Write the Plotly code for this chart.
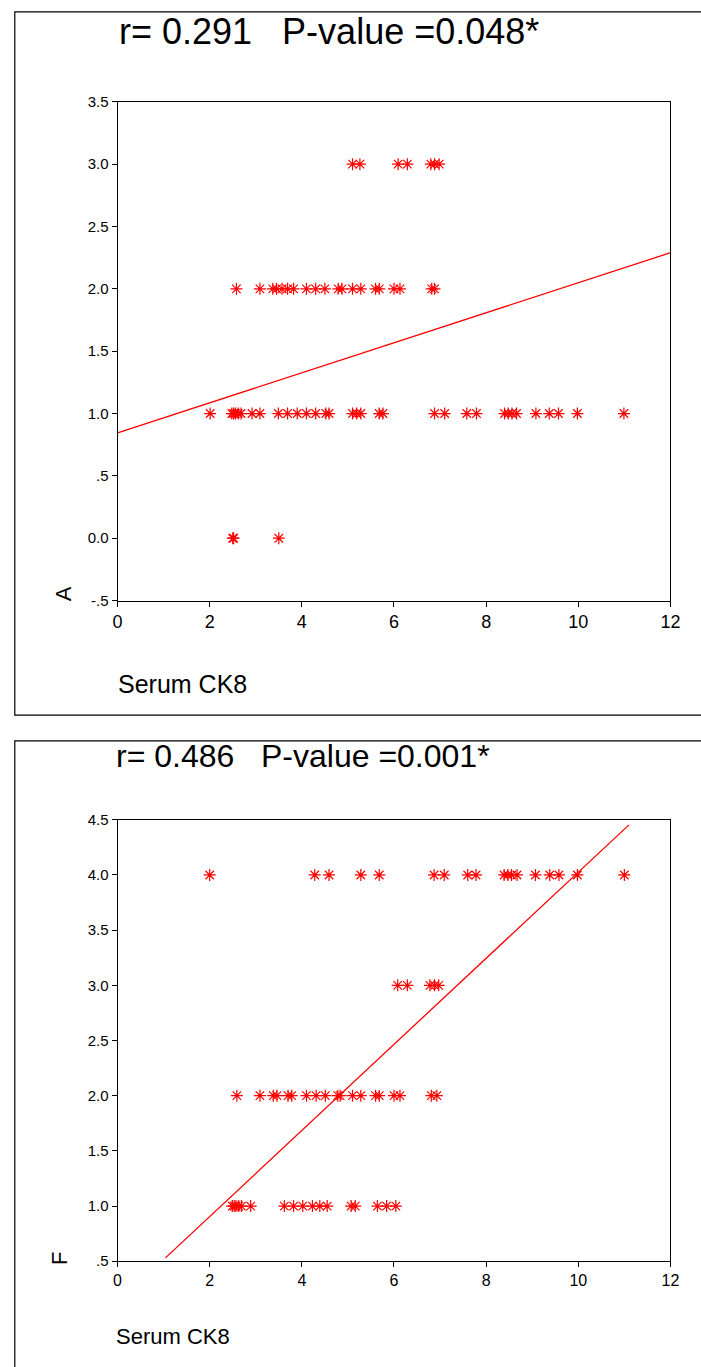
import plotly.graph_objects as go

# ---------------- data ----------------
# Top panel (A vs Serum CK8)
a_x = [5.10, 5.26, 6.09, 6.29, 6.80, 6.88, 6.98,
       2.58, 3.09, 3.37, 3.45, 3.57, 3.69, 3.82, 4.10, 4.30, 4.50, 4.79, 4.87, 5.10, 5.28,
       5.60, 5.68, 6.00, 6.13, 6.82, 6.88,
       2.01, 2.48, 2.52, 2.56, 2.62, 2.68, 2.92, 3.09, 3.49, 3.69, 3.90, 4.10, 4.30, 4.52,
       4.59, 5.10, 5.19, 5.28, 5.68, 5.76, 6.88, 7.10, 7.58, 7.79, 8.40, 8.48, 8.56, 8.66,
       9.08, 9.37, 9.57, 9.98, 10.99,
       2.50, 2.52, 3.50]
a_y = [3]*7 + [2]*20 + [1]*33 + [0]*3
a_fit_intercept = 0.845
a_fit_slope = 0.1204
a_fit_x = [0, 12]

# Bottom panel (F vs Serum CK8)
f_x = [2.00, 4.28, 4.59, 5.28, 5.68, 6.87, 7.09, 7.60, 7.78, 8.39, 8.47, 8.55, 8.67,
       9.07, 9.38, 9.58, 9.98, 11.00,
       6.08, 6.29, 6.78, 6.88, 6.97,
       2.59, 3.09, 3.38, 3.46, 3.70, 3.78, 4.10, 4.31, 4.51, 4.78, 4.83, 5.10, 5.28, 5.60,
       5.68, 6.00, 6.13, 6.81, 6.93,
       2.49, 2.53, 2.57, 2.63, 2.69, 2.89, 3.62, 3.82, 4.02, 4.23, 4.39, 4.55, 5.07, 5.16,
       5.64, 5.84, 6.04]
f_y = [4]*18 + [3]*5 + [2]*19 + [1]*17
f_fit_intercept = 0.125
f_fit_slope = 0.39
f_fit_x = [1.04, 11.1]

x_ticks = [0, 2, 4, 6, 8, 10, 12]
a_ticks = [-0.5, 0, 0.5, 1, 1.5, 2, 2.5, 3, 3.5]
a_ticktext = ["-.5", "0.0", ".5", "1.0", "1.5", "2.0", "2.5", "3.0", "3.5"]
f_ticks = [0.5, 1, 1.5, 2, 2.5, 3, 3.5, 4, 4.5]
f_ticktext = [".5", "1.0", "1.5", "2.0", "2.5", "3.0", "3.5", "4.0", "4.5"]

title_a = "r= 0.291   P-value =0.048*"
title_f = "r= 0.486   P-value =0.001*"
x_label = "Serum CK8"

# ---------------- figure ----------------
W, H = 701, 1367
FONT = "Liberation Sans, Arial, sans-serif"
RED = "#ff0000"

def px(x):
    return x / W

def py(y):
    return 1 - y / H

fig = go.Figure()
marker = dict(symbol="asterisk-open", size=10, color=RED, line=dict(color=RED, width=1.2))

fig.add_trace(go.Scatter(x=a_x, y=a_y, mode="markers", marker=marker, xaxis="x", yaxis="y",
                         showlegend=False, hoverinfo="x+y"))
fig.add_trace(go.Scatter(x=a_fit_x, y=[a_fit_intercept + a_fit_slope * v for v in a_fit_x],
                         mode="lines", line=dict(color=RED, width=1.3), xaxis="x", yaxis="y",
                         showlegend=False))
fig.add_trace(go.Scatter(x=f_x, y=f_y, mode="markers", marker=marker, xaxis="x2", yaxis="y2",
                         showlegend=False, hoverinfo="x+y"))
fig.add_trace(go.Scatter(x=f_fit_x, y=[f_fit_intercept + f_fit_slope * v for v in f_fit_x],
                         mode="lines", line=dict(color=RED, width=1.3), xaxis="x2", yaxis="y2",
                         showlegend=False))

xd = [px(115), px(680)]
top_dom = [py(599), py(94)]
bot_dom = [py(1268), py(821)]

axis_common = dict(showline=True, linecolor="black", linewidth=1, mirror=True, showgrid=False,
                   zeroline=False, ticks="outside", ticklen=5, tickcolor="black")

fig.update_layout(
    width=W, height=H, margin=dict(l=0, r=0, t=0, b=0),
    paper_bgcolor="white", plot_bgcolor="white",
    xaxis=dict(domain=xd, range=[0, 12], tickvals=x_ticks, anchor="y",
               tickfont=dict(family=FONT, size=18, color="black"), **axis_common),
    yaxis=dict(domain=top_dom, range=[-0.5, 3.5], tickvals=a_ticks, ticktext=a_ticktext,
               anchor="x", tickfont=dict(family=FONT, size=15, color="black"), **axis_common),
    xaxis2=dict(domain=xd, range=[0, 12], tickvals=x_ticks, anchor="y2",
                tickfont=dict(family=FONT, size=16, color="black"), **axis_common),
    yaxis2=dict(domain=bot_dom, range=[0.5, 4.5], tickvals=f_ticks, ticktext=f_ticktext,
                anchor="x2", tickfont=dict(family=FONT, size=15, color="black"), **axis_common),
)

# panel frames
fig.add_shape(type="rect", xref="paper", yref="paper", x0=px(10), x1=px(712), y0=py(715), y1=py(3),
              line=dict(color="black", width=1.2), fillcolor="rgba(0,0,0,0)", layer="below")
fig.add_shape(type="rect", xref="paper", yref="paper", x0=px(10), x1=px(712), y0=py(1380), y1=py(741),
              line=dict(color="black", width=1.2), fillcolor="rgba(0,0,0,0)", layer="below")

ann = []
ann.append(dict(text=title_a, x=px(114), y=py(23), xref="paper", yref="paper", xanchor="left",
                yanchor="middle", showarrow=False, font=dict(family=FONT, size=36, color="black")))
ann.append(dict(text=title_f, x=px(111), y=py(756), xref="paper", yref="paper", xanchor="left",
                yanchor="middle", showarrow=False, font=dict(family=FONT, size=32, color="black")))
ann.append(dict(text=x_label, x=px(113), y=py(684), xref="paper", yref="paper", xanchor="left",
                yanchor="middle", showarrow=False, font=dict(family=FONT, size=25, color="black")))
ann.append(dict(text=x_label, x=px(111), y=py(1344), xref="paper", yref="paper", xanchor="left",
                yanchor="middle", showarrow=False, font=dict(family=FONT, size=22, color="black")))
ann.append(dict(text="A", x=px(60), y=py(592), xref="paper", yref="paper", xanchor="center",
                yanchor="middle", showarrow=False, textangle=-90,
                font=dict(family=FONT, size=22, color="black")))
ann.append(dict(text="F", x=px(55), y=py(1265), xref="paper", yref="paper", xanchor="center",
                yanchor="middle", showarrow=False, textangle=-90,
                font=dict(family=FONT, size=22, color="black")))
fig.update_layout(annotations=ann)

fig.write_html("out.html", config={"displayModeBar": False},
               post_script="document.body.style.margin='0';document.body.style.overflow='hidden';")
